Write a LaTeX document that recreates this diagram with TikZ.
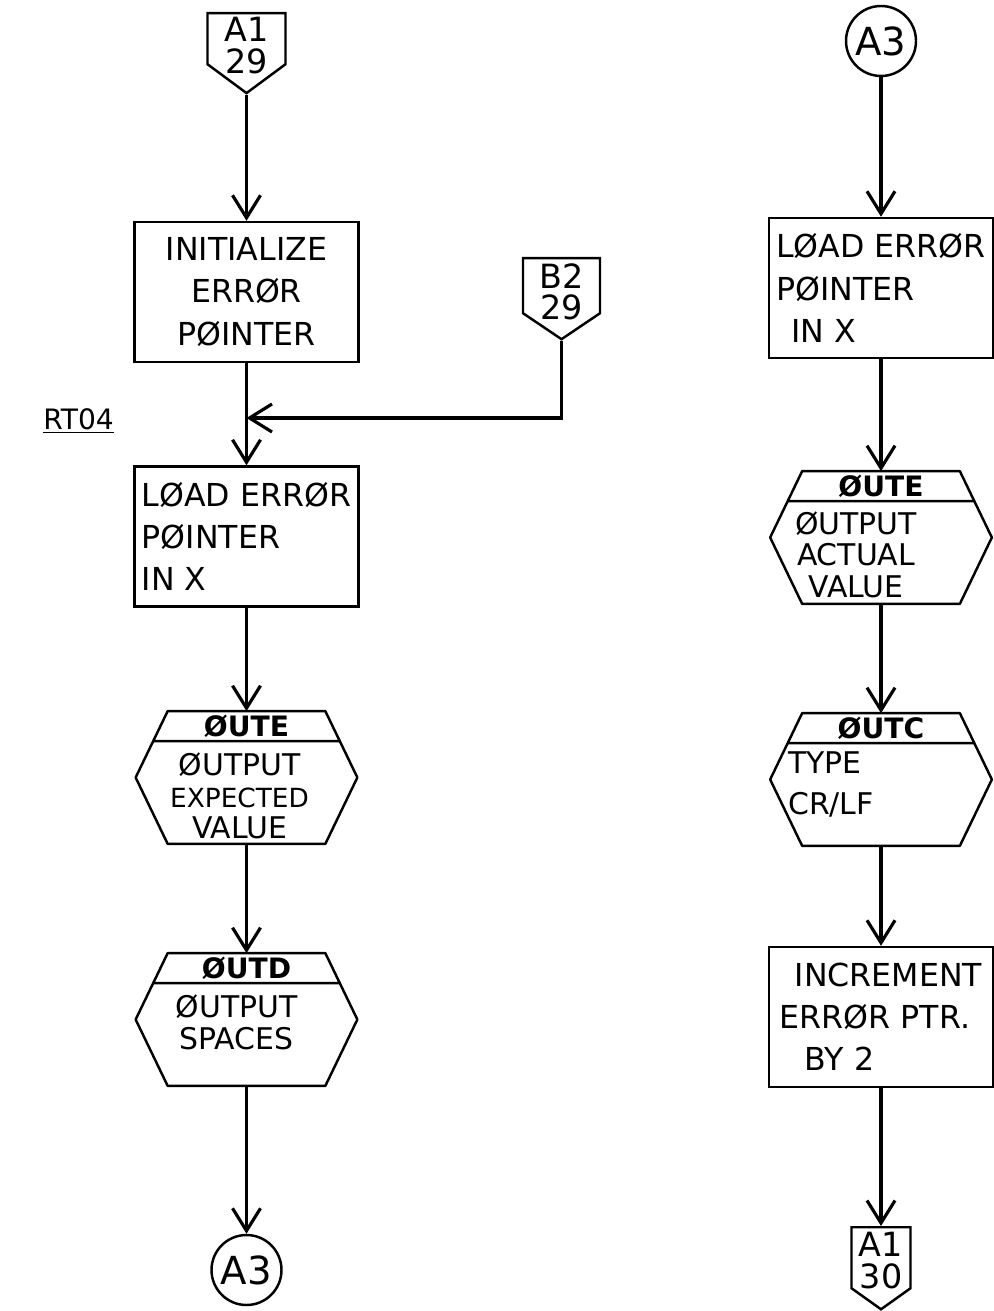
\documentclass[tikz,border=0pt]{standalone}
\usepackage{fontspec}
\setmainfont{DejaVu Sans}
\usetikzlibrary{positioning,arrows.meta,shapes.symbols}

\begin{document}
\begin{tikzpicture}[
  font=\fontsize{18}{24}\selectfont,
  box/.style={rectangle, draw=black, line width=1.4pt, minimum width=4.48cm,
              minimum height=2.8cm, inner sep=4pt, align=center},
  boxl/.style={box, align=left},
  hexa/.style={rectangle, minimum width=4.42cm, minimum height=2.64cm, inner sep=0pt},
  hexline/.style={draw=black, line width=1.4pt, line join=round},
  bartext/.style={font=\fontsize{16}{16}\selectfont\bfseries, inner sep=0pt},
  hextext/.style={font=\fontsize{17}{18}\selectfont, align=center, inner sep=0pt},
  offpage/.style={signal, signal to=south, draw=black, line width=1.4pt, inner sep=0pt,
                  minimum width=1.56cm, minimum height=1.02cm},
  offtext/.style={font=\fontsize{19}{18}\selectfont, align=center, inner sep=0pt, anchor=north},
  onpage/.style={circle, draw=black, line width=1.4pt, minimum size=1.4cm, inner sep=0pt,
                 font=\fontsize{22}{22}\selectfont},
  flow/.style={-{Straight Barb[length=4.5mm,width=5.6mm]}, line width=1.8pt},
  link/.style={line width=1.8pt}
]
\useasboundingbox (0,0) rectangle (19.86,-26.22);

% left column
\node[offpage, signal pointer angle=107, anchor=north] (a129) at (4.93,-0.24) {};
\node[offtext] (a129txt) at ([yshift=-1mm]a129.north) {A1\\29};
\node[box] (init) at (4.93,-5.84) {INITIALIZE\\ERRØR\\PØINTER};
\coordinate (junc) at (4.93,-8.36);
\node[offpage, signal pointer angle=112, anchor=north, minimum width=1.54cm, minimum height=1.1cm] (b229) at (11.23,-5.14) {};
\node[offtext] (b229txt) at ([yshift=-1.2mm]b229.north) {B2\\29};
\node[font=\fontsize{16}{16}\selectfont, anchor=east] (rt04) at (2.4,-8.42) {\underline{RT04}};
\node[boxl] (ldptr) at (4.93,-10.73) {LØAD ERRØR\\PØINTER\\IN X};
\node[hexa] (outexp) at (4.93,-15.55) {};
\node[hexa] (outspc) at (4.93,-20.39) {};
\node[onpage] (a3bot) at (4.93,-25.4) {A3};

% right column
\node[onpage] (a3top) at (17.62,-0.82) {A3};
\node[boxl] (ldptr2) at (17.62,-5.76) {LØAD ERRØR\\PØINTER\\\hspace{3mm}IN X};
\node[hexa] (outact) at (17.62,-10.75) {};
\node[hexa] (outcrlf) at (17.62,-15.59) {};
\node[boxl] (incptr) at (17.62,-20.34) {\hspace{3mm}INCREMENT\\ERRØR PTR.\\\hspace{5mm}BY 2};
\node[offpage, signal pointer angle=109, anchor=north, minimum width=1.18cm, minimum height=1.22cm] (a130) at (17.62,-24.52) {};
\node[offtext] (a130txt) at ([yshift=-1.2mm]a130.north) {A1\\30};

% hexagon outlines with bar
\foreach \h in {outexp,outspc,outact,outcrlf}
  \draw[hexline] (\h.west) -- ([xshift=6.4mm]\h.north west) -- ([xshift=-6.4mm]\h.north east)
    -- (\h.east) -- ([xshift=-6.4mm]\h.south east) -- ([xshift=6.4mm]\h.south west) -- cycle
    ([xshift=3.5mm,yshift=-6mm]\h.north west) -- ([xshift=-3.5mm,yshift=-6mm]\h.north east);

\node[bartext] (outexpbar) at ([yshift=-3mm]outexp.north) {ØUTE};
\node[bartext] (outspcbar) at ([yshift=-3mm]outspc.north) {ØUTD};
\node[bartext] (outactbar) at ([yshift=-3mm]outact.north) {ØUTE};
\node[bartext] (outcrlfbar) at ([yshift=-3mm]outcrlf.north) {ØUTC};

\node[hextext] (outexptxt) at ([xshift=-1.4mm,yshift=-3.7mm]outexp.center)
  {ØUTPUT\\{\fontsize{15}{18}\selectfont EXPECTED}\\VALUE};
\node[hextext] (outspctxt) at ([xshift=-2mm,yshift=-0.6mm]outspc.center) {ØUTPUT\\SPACES};
\node[hextext] (outacttxt) at ([xshift=-5mm,yshift=-3.4mm]outact.center) {ØUTPUT\\ACTUAL\\VALUE};
\node[hextext, align=left] (outcrlftxt) at ([xshift=-10mm,yshift=-1mm]outcrlf.center) {TYPE\\[5pt]CR/LF};

% connectors
\draw[flow] (a129) -- (init);
\draw[link] (init) -- (junc);
\draw[flow] (b229) |- (junc);
\draw[flow] (junc) -- (ldptr);
\draw[flow] (ldptr) -- (outexp);
\draw[flow] (outexp) -- (outspc);
\draw[flow] (outspc) -- (a3bot);

\draw[flow] (a3top) -- (ldptr2);
\draw[flow] (ldptr2) -- (outact);
\draw[flow] (outact) -- (outcrlf);
\draw[flow] (outcrlf) -- (incptr);
\draw[flow] (incptr) -- (a130);
\end{tikzpicture}
\end{document}
